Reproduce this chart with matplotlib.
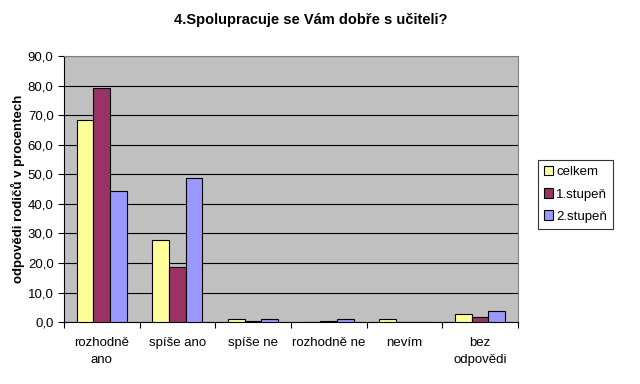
import numpy as np
import matplotlib
matplotlib.use("Agg")
from matplotlib import pyplot as plt

plt.rcParams['font.family'] = ['Liberation Sans', 'DejaVu Sans']

kategorie = ['rozhodně\nano', 'spíše ano', 'spíše ne', 'rozhodně ne', 'nevím', 'bez\nodpovědi']
celkem = [68.3, 27.7, 1.0, 0.0, 1.0, 2.7]
stupen1 = [79.2, 18.6, 0.5, 0.3, 0.0, 1.8]
stupen2 = [44.3, 48.7, 1.2, 1.2, 0.0, 3.9]
serie = [('celkem', celkem, '#FFFF99'),
         ('1.stupeň', stupen1, '#993366'),
         ('2.stupeň', stupen2, '#9999FF')]

fig = plt.figure(figsize=(6.4, 3.84), dpi=100)
ax = fig.add_axes([0.1, 0.161, 0.709, 0.693])
ax.set_facecolor('#C0C0C0')

x = np.arange(len(kategorie))
sirka = 0.22
for i, (naziv, vrijednosti, boja) in enumerate(serie):
    ax.bar(x + (i - 1) * sirka, vrijednosti, sirka, color=boja, edgecolor='black',
           linewidth=0.8, label=naziv, zorder=3)

ax.set_xlim(-0.5, len(kategorie) - 0.5)
ax.set_ylim(0, 90)
ax.set_yticks(np.arange(0, 91, 10))
ax.set_yticklabels([f'{v:.1f}'.replace('.', ',') for v in np.arange(0, 91, 10)], fontsize=9.5)
ax.yaxis.grid(True, color='black', linewidth=0.8, zorder=0)
ax.set_xticks(np.arange(-0.5, len(kategorie), 1))
ax.set_xticklabels([])
ax.set_xticks(x, minor=True)
ax.set_xticklabels(kategorie, minor=True, fontsize=9.5, linespacing=1.45)
ax.tick_params(axis='x', which='minor', length=0, pad=11)
ax.tick_params(axis='x', which='major', length=4, direction='out')
ax.tick_params(axis='y', length=4, direction='out')
for s in ['top', 'right']:
    ax.spines[s].set_color('#808080')
ax.set_ylabel('odpovědi rodičů v procentech', fontsize=9.5, fontweight='bold', labelpad=2)

fig.suptitle('4.Spolupracuje se Vám dobře s učiteli?', x=0.485, y=0.965,
             fontsize=10.5, fontweight='bold')

leg = ax.legend(loc='center left', bbox_to_anchor=(1.035, 0.48), fontsize=9.5,
                frameon=True, fancybox=False, edgecolor='black', handlelength=0.7,
                handleheight=0.7, handletextpad=0.25, borderpad=0.45, labelspacing=0.75,
                borderaxespad=0.3)
leg.get_frame().set_linewidth(0.8)

fig.savefig('out.png', dpi=100)
